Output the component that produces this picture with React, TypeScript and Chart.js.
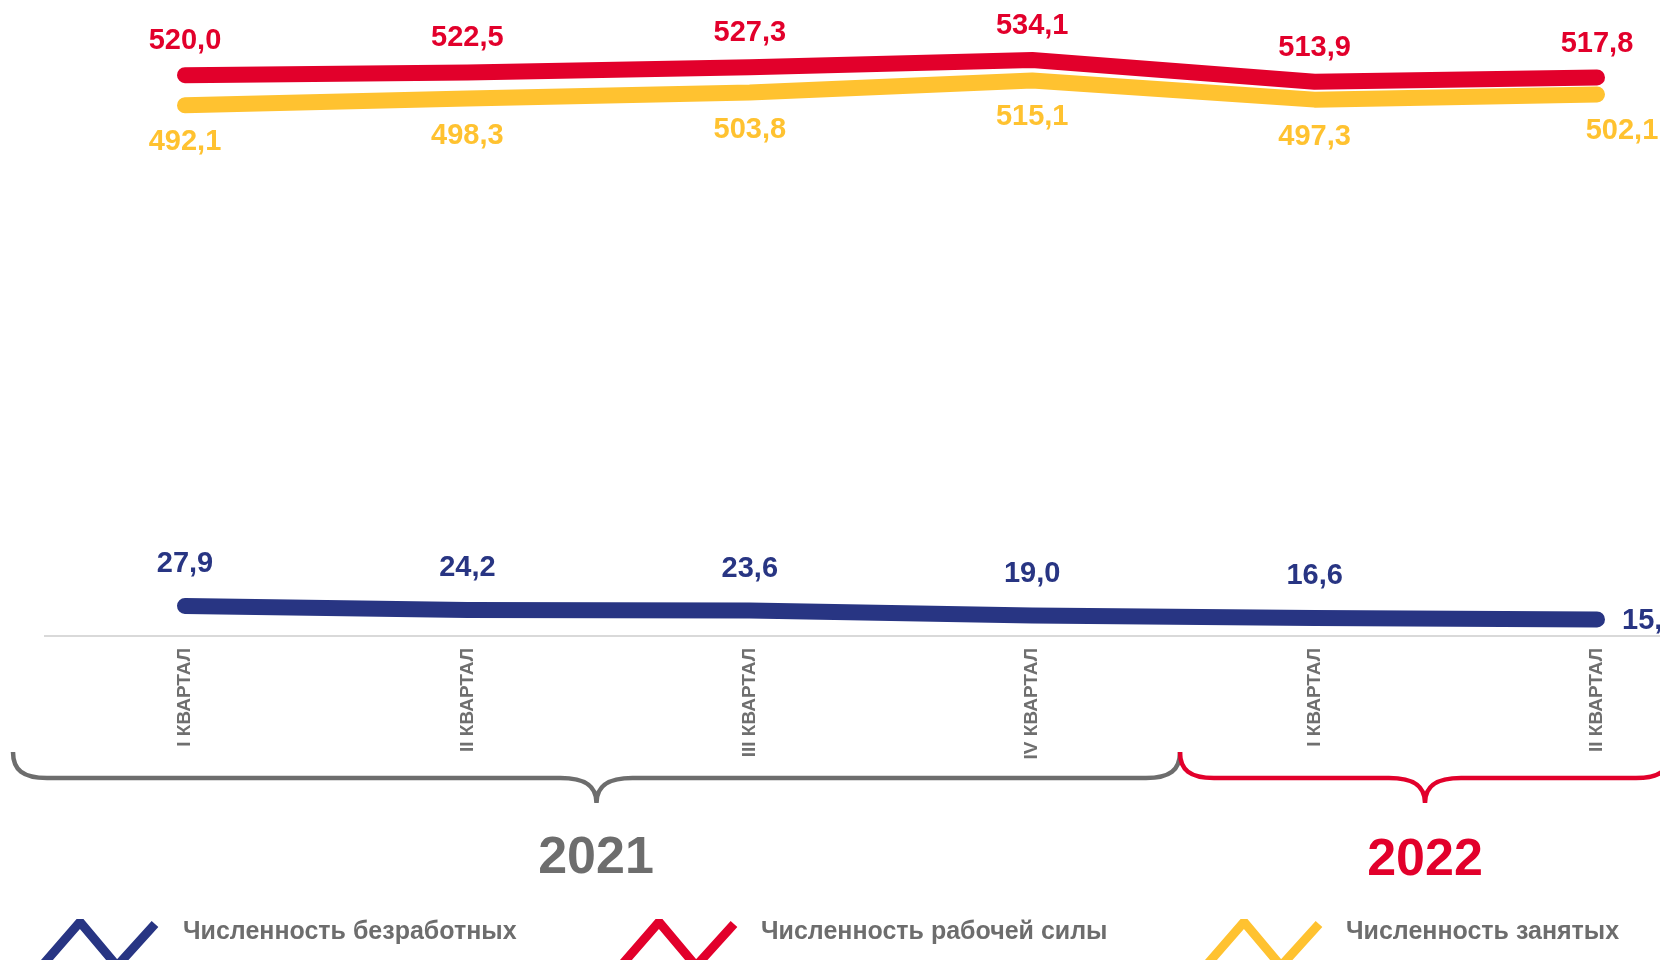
import React, { useEffect, useRef } from 'react';
import { Chart, registerables } from 'chart.js';

Chart.register(...registerables);

// ---- data ----
const quarters = ['I КВАРТАЛ', 'II КВАРТАЛ', 'III КВАРТАЛ', 'IV КВАРТАЛ', 'I КВАРТАЛ', 'II КВАРТАЛ'];
const unemployed = [27.9, 24.2, 23.6, 19.0, 16.6, 15.4];
const laborForce = [520.0, 522.5, 527.3, 534.1, 513.9, 517.8];
const employed = [492.1, 498.3, 503.8, 515.1, 497.3, 502.1];
const years = ['2021', '2022'];
const seriesNames = ['Численность безработных', 'Численность рабочей силы', 'Численность занятых'];

// ---- style ----
const BLUE = '#283583';
const RED = '#E2002B';
const YELLOW = '#FFC230';
const GRAY = '#6D6D6D';
const FONT = "'Liberation Sans', Arial, sans-serif";

const fmt = (v: number) => v.toFixed(1).replace('.', ',');

const labelPlugin = {
  id: 'valueLabels',
  afterDatasetsDraw(chart: any) {
    const ctx = chart.ctx;
    ctx.save();
    ctx.font = `bold 29px ${FONT}`;
    ctx.textBaseline = 'middle';
    chart.data.datasets.forEach((ds: any, di: number) => {
      const meta = chart.getDatasetMeta(di);
      const off = ds.labelOffset as number;
      meta.data.forEach((pt: any, i: number) => {
        const v = ds.data[i] as number;
        const last = i === ds.data.length - 1;
        ctx.fillStyle = ds.borderColor;
        let x = pt.x;
        let y = pt.y + off;
        ctx.textAlign = 'center';
        if (last && ds.lastLabel === 'right') {
          ctx.textAlign = 'left';
          x = pt.x + 25;
          y = pt.y + 2;
        } else if (last && ds.lastShift) {
          x = pt.x + ds.lastShift;
        }
        ctx.fillText(fmt(v), x, y);
      });
    });
    ctx.restore();
  },
};

function brace(ctx: CanvasRenderingContext2D, x1: number, x2: number, yTop: number, yLine: number, yTip: number, color: string) {
  const mid = (x1 + x2) / 2;
  ctx.save();
  ctx.strokeStyle = color;
  ctx.lineWidth = 4.5;
  ctx.lineCap = 'butt';
  ctx.beginPath();
  ctx.moveTo(x1, yTop);
  ctx.bezierCurveTo(x1, yLine - 8, x1 + 10, yLine, x1 + 34, yLine);
  ctx.lineTo(mid - 36, yLine);
  ctx.bezierCurveTo(mid - 14, yLine, mid, yLine + 6, mid, yTip);
  ctx.moveTo(mid, yTip);
  ctx.bezierCurveTo(mid, yLine + 6, mid + 14, yLine, mid + 36, yLine);
  ctx.lineTo(x2 - 34, yLine);
  ctx.bezierCurveTo(x2 - 10, yLine, x2, yLine - 8, x2, yTop);
  ctx.stroke();
  ctx.restore();
}

function zigzag(ctx: CanvasRenderingContext2D, x0: number, color: string) {
  ctx.save();
  ctx.strokeStyle = color;
  ctx.lineWidth = 9;
  ctx.lineJoin = 'bevel';
  ctx.lineCap = 'butt';
  ctx.beginPath();
  ctx.moveTo(x0, 968);
  ctx.lineTo(x0 + 40, 922);
  ctx.lineTo(x0 + 77, 966);
  ctx.lineTo(x0 + 115, 924);
  ctx.stroke();
  ctx.restore();
}

const decorPlugin = {
  id: 'decor',
  beforeDatasetsDraw(chart: any) {
    const ctx = chart.ctx;
    const y = chart.chartArea.bottom;
    ctx.save();
    ctx.strokeStyle = '#D9D9D9';
    ctx.lineWidth = 2;
    ctx.beginPath();
    ctx.moveTo(44, y);
    ctx.lineTo(chart.width, y);
    ctx.stroke();
    ctx.restore();
  },
  afterDraw(chart: any) {
    const ctx = chart.ctx;
    brace(ctx, 13, 1180, 752, 778, 803, GRAY);
    brace(ctx, 1180, 1670, 752, 778, 803, RED);
    ctx.save();
    ctx.font = `bold 52px ${FONT}`;
    ctx.textAlign = 'center';
    ctx.textBaseline = 'middle';
    ctx.fillStyle = GRAY;
    ctx.fillText(years[0], 596, 859);
    ctx.fillStyle = RED;
    ctx.fillText(years[1], 1425, 861);
    ctx.restore();

    const colors = [BLUE, RED, YELLOW];
    const iconX = [40, 619, 1204];
    const textX = [183, 761, 1346];
    ctx.save();
    ctx.font = `bold 25px ${FONT}`;
    ctx.textAlign = 'left';
    ctx.textBaseline = 'middle';
    seriesNames.forEach((n, i) => {
      zigzag(ctx, iconX[i], colors[i]);
      ctx.fillStyle = GRAY;
      ctx.fillText(n, textX[i], 932);
    });
    ctx.restore();
  },
};

export default function App() {
  const ref = useRef<HTMLCanvasElement | null>(null);
  useEffect(() => {
    if (!ref.current) return;
    const common = {
      fill: false,
      tension: 0,
      pointRadius: 0,
      pointHoverRadius: 0,
      borderWidth: 16,
      borderCapStyle: 'round',
      borderJoinStyle: 'round',
      clip: false,
    };
    const chart = new Chart(ref.current, {
      type: 'line',
      data: {
        labels: quarters,
        datasets: [
          { ...common, label: seriesNames[0], data: unemployed, borderColor: BLUE, backgroundColor: BLUE, labelOffset: -42, lastLabel: 'right' } as any,
          { ...common, label: seriesNames[1], data: laborForce, borderColor: RED, backgroundColor: RED, labelOffset: -34 } as any,
          { ...common, label: seriesNames[2], data: employed, borderColor: YELLOW, backgroundColor: YELLOW, labelOffset: 37, lastShift: 25 } as any,
        ],
      },
      options: {
        animation: false,
        responsive: true,
        maintainAspectRatio: false,
        events: [],
        layout: { padding: { left: 185, right: 63, top: 32, bottom: 0 } },
        plugins: { legend: { display: false }, tooltip: { enabled: false }, title: { display: false } },
        scales: {
          x: {
            type: 'category',
            offset: false,
            grid: { display: false },
            border: { display: false },
            ticks: {
              color: '#6F6F6F',
              font: { family: FONT, weight: 'bold', size: 19 },
              minRotation: 90,
              maxRotation: 90,
              padding: 4,
              autoSkip: false,
            },
            afterFit(scale: any) {
              scale.height = 324;
            },
          },
          y: { display: false, min: 0, max: 560 },
        },
      },
      plugins: [decorPlugin, labelPlugin],
    } as any);
    return () => chart.destroy();
  }, []);
  return (
    <div style={{ position: 'absolute', left: 0, top: 0, width: 1660, height: 960, background: '#fff' }}>
      <canvas ref={ref} />
    </div>
  );
}
